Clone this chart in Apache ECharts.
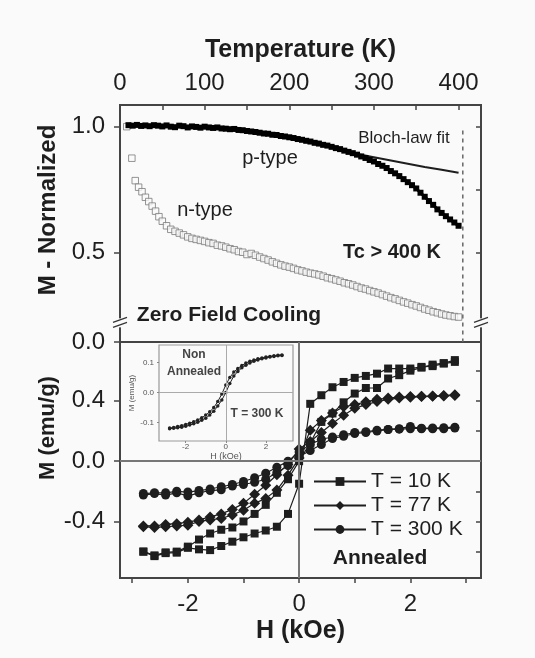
<!DOCTYPE html>
<html><head><meta charset="utf-8">
<script src="https://cdn.jsdelivr.net/npm/echarts@6/dist/echarts.min.js"></script>
<style>html,body{margin:0;padding:0;background:#fafafa}#c{width:535px;height:658px}</style>
</head><body><div id="c"></div>
<script>
// ---------- Top panel: normalized M vs temperature ----------
const tempLabels = [0, 100, 200, 300, 400];
const tempTicks = [0, 50, 100, 150, 200, 250, 300, 350, 400];
const normLabels = [0.146, 0.5, 1.0];

const pTemp = [10,15,20,25,30,35,40,45,50,55,60,65,70,75,80,85,90,95,100,105,110,115,120,125,130,135,140,145,150,155,160,165,170,175,180,185,190,195,200,205,210,215,220,225,230,235,240,245,250,255,260,265,270,275,280,285,290,295,300,305,310,315,320,325,330,335,340,345,350,355,360,365,370,375,380,385,390,395,400];
const pM = [1.006,1.004,1.007,1.003,1.005,1.002,1.006,1.004,1.001,1.005,1.000,0.998,1.004,1.002,0.997,1.001,0.999,0.996,1.000,0.997,0.995,0.997,0.993,
  0.992,0.990,0.991,0.987,0.986,0.983,0.981,0.979,0.976,0.973,0.972,0.968,0.967,0.963,0.961,0.958,
  0.955,0.951,0.948,0.944,0.941,0.936,0.933,0.928,0.925,0.920,0.915,0.911,0.905,0.900,0.895,0.889,0.882,0.876,0.868,0.862,
  0.852,0.845,0.836,0.824,0.815,0.804,0.792,0.780,0.768,0.755,0.738,0.722,0.705,0.690,0.672,0.658,0.645,0.632,0.620,0.607];

const nTemp = [8,14,18,22,26,30,34,38,42,46,50,55,60,65,70,75,80,85,90,95,100,105,110,115,120,125,130,135,140,145,150,155,160,165,170,175,180,185,190,195,200,205,210,215,220,225,230,235,240,245,250,255,260,265,270,275,280,285,290,295,300,305,310,315,320,325,330,335,340,345,350,355,360,365,370,375,380,385,390,395,400];
const nM = [1.0,0.875,0.786,0.76,0.742,0.72,0.703,0.685,0.665,0.643,
  0.625,0.607,0.593,0.585,0.578,0.571,0.563,0.557,0.553,0.549,0.545,0.540,0.537,0.530,0.527,0.522,0.516,0.512,0.505,0.502,
  0.493,0.497,0.490,0.483,0.477,0.471,0.464,0.458,0.452,0.447,0.443,0.438,0.432,0.428,0.423,0.419,0.416,0.412,0.407,0.401,
  0.397,0.392,0.387,0.381,0.377,0.372,0.366,0.360,0.356,0.350,0.345,0.340,0.334,0.328,0.322,0.317,0.311,0.305,0.300,0.294,
  0.289,0.283,0.277,0.272,0.266,0.262,0.257,0.253,0.250,0.247,0.245];

const blochT = [200,240,260,280,300,320,340,360,380,400];
const blochM = [0.955,0.929,0.912,0.892,0.879,0.866,0.853,0.840,0.829,0.817];

const tcLineT = [405, 405];
const tcLineM = [0.985, 0.146];

// ---------- Bottom panel: hysteresis loops ----------
const fieldLabels = [-2, 0, 2];
const fieldTicks = [-3, -2, -1, 0, 1, 2, 3];
const momentLabels = [-0.4, 0, 0.4];
const momentRightTicks = [-0.6, -0.4, -0.2, 0.2, 0.4, 0.6];

const H = [-2.8,-2.6,-2.4,-2.2,-2.0,-1.8,-1.6,-1.4,-1.2,-1.0,-0.8,-0.6,-0.4,-0.2,0,0.2,0.4,0.6,0.8,1.0,1.2,1.4,1.6,1.8,2.0,2.2,2.4,2.6,2.8];
const m10a = [-0.60,-0.63,-0.61,-0.607,-0.575,-0.585,-0.59,-0.563,-0.534,-0.505,-0.48,-0.46,-0.435,-0.35,-0.15,0.38,0.437,0.49,0.525,0.552,0.565,0.58,0.614,0.614,0.614,0.625,0.63,0.647,0.658];
const m10b = [-0.60,-0.625,-0.605,-0.60,-0.567,-0.52,-0.48,-0.455,-0.44,-0.40,-0.35,-0.29,-0.21,-0.12,0.0,0.12,0.26,0.316,0.39,0.448,0.485,0.485,0.548,0.57,0.60,0.62,0.64,0.65,0.67];
const m77a = [-0.435,-0.44,-0.435,-0.43,-0.425,-0.40,-0.39,-0.38,-0.357,-0.325,-0.28,-0.247,-0.192,-0.093,0.02,0.205,0.27,0.32,0.36,0.375,0.393,0.41,0.418,0.425,0.428,0.43,0.432,0.435,0.44];
const m77b = [-0.43,-0.43,-0.42,-0.415,-0.405,-0.39,-0.37,-0.35,-0.32,-0.28,-0.22,-0.16,-0.09,-0.02,0.08,0.13,0.19,0.25,0.305,0.35,0.375,0.395,0.41,0.418,0.424,0.428,0.43,0.432,0.436];
const m300a = [-0.225,-0.215,-0.225,-0.21,-0.23,-0.21,-0.195,-0.19,-0.165,-0.155,-0.14,-0.12,-0.075,-0.03,0.03,0.07,0.11,0.15,0.165,0.183,0.19,0.20,0.21,0.215,0.23,0.215,0.215,0.215,0.22];
const m300b = [-0.215,-0.21,-0.21,-0.20,-0.205,-0.195,-0.185,-0.17,-0.155,-0.135,-0.11,-0.08,-0.04,0.0,0.06,0.11,0.145,0.16,0.175,0.19,0.195,0.205,0.21,0.212,0.215,0.218,0.22,0.222,0.225];

// ---------- Inset: non-annealed, 300 K ----------
const insetFieldLabels = [-2, 0, 2];
const insetMomentLabels = [-0.1, 0, 0.1];
const hIn = [-2.8,-2.6,-2.4,-2.2,-2.0,-1.8,-1.6,-1.4,-1.2,-1.0,-0.8,-0.6,-0.4,-0.2,0,0.2,0.4,0.6,0.8,1.0,1.2,1.4,1.6,1.8,2.0,2.2,2.4,2.6,2.8];
const inUpper = [-0.118,-0.116,-0.113,-0.11,-0.106,-0.102,-0.097,-0.091,-0.084,-0.075,-0.064,-0.05,-0.03,-0.005,0.025,0.05,0.068,0.08,0.09,0.098,0.104,0.108,0.112,0.115,0.118,0.12,0.122,0.124,0.125];
const inLower = [-0.12,-0.119,-0.117,-0.115,-0.112,-0.108,-0.104,-0.099,-0.092,-0.085,-0.075,-0.062,-0.045,-0.025,0.0,0.03,0.055,0.07,0.082,0.091,0.098,0.104,0.108,0.112,0.115,0.118,0.12,0.122,0.123];

const FF = '"Liberation Sans", Arial, Helvetica, sans-serif';
const INK = '#1e1e1e';
const zip = (xs, ys) => xs.map((x, i) => [x, ys[i]]);
const noLine = { show: false, onZero: false };

function loopSeries(name, ys, symbol, size) {
  return {
    name, type: 'line', xAxisIndex: 1, yAxisIndex: 2, data: zip(H, ys),
    symbol, symbolSize: size, z: 3,
    lineStyle: { color: INK, width: 1.2 }, itemStyle: { color: INK }
  };
}

const option = {
  animation: false,
  backgroundColor: '#fafafa',
  textStyle: { fontFamily: FF, color: INK },
  grid: [
    { left: 120, top: 105, width: 361, height: 237, show: true, borderColor: '#444', borderWidth: 2, backgroundColor: 'transparent', containLabel: false, outerBoundsMode: 'none' },
    { left: 120, top: 342, width: 361, height: 236, show: true, borderColor: '#444', borderWidth: 2, backgroundColor: 'transparent', containLabel: false, outerBoundsMode: 'none' },
    { left: 159, top: 345, width: 134, height: 96, show: true, borderColor: '#999', borderWidth: 1.2, backgroundColor: 'transparent', containLabel: false, outerBoundsMode: 'none' }
  ],
  xAxis: [
    { gridIndex: 0, type: 'value', position: 'top', min: 0, max: 426.5,
      axisLine: noLine, splitLine: { show: false },
      axisTick: { show: true, inside: true, length: 5, lineStyle: { color: '#444', width: 1.5 }, customValues: tempTicks },
      axisLabel: { customValues: tempLabels, fontSize: 24, color: INK, margin: 10, fontFamily: FF },
      name: 'Temperature (K)', nameLocation: 'middle', nameGap: 42,
      nameTextStyle: { fontSize: 25, fontWeight: 'bold', color: INK, fontFamily: FF } },
    { gridIndex: 1, type: 'value', position: 'bottom', min: -3.22, max: 3.27,
      axisLine: noLine, splitLine: { show: false },
      axisTick: { show: true, inside: false, length: 5, lineStyle: { color: '#444', width: 1.5 }, customValues: fieldTicks },
      axisLabel: { customValues: fieldLabels, fontSize: 24, color: INK, margin: 14, fontFamily: FF },
      name: 'H (kOe)', nameLocation: 'middle', nameGap: 41,
      nameTextStyle: { fontSize: 25, fontWeight: 'bold', color: INK, fontFamily: FF } },
    { gridIndex: 2, type: 'value', position: 'bottom', min: -3.33, max: 3.35,
      axisLine: noLine, splitLine: { show: false },
      axisTick: { show: true, inside: false, length: 2, lineStyle: { color: '#888', width: 1 }, customValues: insetFieldLabels },
      axisLabel: { customValues: insetFieldLabels, fontSize: 8, color: '#555', margin: 2, fontFamily: FF },
      name: 'H (kOe)', nameLocation: 'middle', nameGap: 10,
      nameTextStyle: { fontSize: 9, color: '#555', fontFamily: FF } }
  ],
  yAxis: [
    { gridIndex: 0, type: 'value', position: 'left', min: 0.146, max: 1.086,
      axisLine: noLine, splitLine: { show: false },
      axisTick: { show: true, inside: false, length: 6, lineStyle: { color: '#444', width: 1.5 }, customValues: normLabels },
      axisLabel: { customValues: normLabels, fontSize: 24, color: INK, margin: 15, fontFamily: FF,
        formatter: v => (v < 0.3 ? '0.0' : v.toFixed(1)) } },
    { gridIndex: 0, type: 'value', position: 'right', min: 0.146, max: 1.086,
      axisLine: noLine, splitLine: { show: false },
      axisTick: { show: true, inside: true, length: 5, lineStyle: { color: '#444', width: 1.5 }, customValues: [0.5, 0.75, 1.0] },
      axisLabel: { show: false } },
    { gridIndex: 1, type: 'value', position: 'left', min: -0.775, max: 0.79,
      axisLine: noLine, splitLine: { show: false },
      axisTick: { show: true, inside: false, length: 6, lineStyle: { color: '#444', width: 1.5 }, customValues: momentLabels },
      axisLabel: { customValues: momentLabels, fontSize: 24, color: INK, margin: 15, fontFamily: FF,
        formatter: v => v.toFixed(1) } },
    { gridIndex: 1, type: 'value', position: 'right', min: -0.775, max: 0.79,
      axisLine: noLine, splitLine: { show: false },
      axisTick: { show: true, inside: true, length: 5, lineStyle: { color: '#444', width: 1.5 }, customValues: momentRightTicks },
      axisLabel: { show: false } },
    { gridIndex: 2, type: 'value', position: 'left', min: -0.161, max: 0.158,
      axisLine: noLine, splitLine: { show: false },
      axisTick: { show: true, inside: false, length: 2, lineStyle: { color: '#888', width: 1 }, customValues: insetMomentLabels },
      axisLabel: { customValues: insetMomentLabels, fontSize: 8, color: '#555', margin: 5, fontFamily: FF,
        formatter: v => v.toFixed(1) },
      name: 'M (emu/g)', nameLocation: 'middle', nameGap: 23,
      nameTextStyle: { fontSize: 8, color: '#555', fontFamily: FF } }
  ],
  legend: {
    left: 313, top: 471, orient: 'vertical', padding: 0,
    itemWidth: 52, itemHeight: 11, itemGap: 3, selectedMode: false,
    textStyle: { fontSize: 21, color: INK, fontFamily: FF },
    data: ['T = 10 K', 'T = 77 K', 'T = 300 K']
  },
  series: [
    { type: 'line', xAxisIndex: 1, yAxisIndex: 2, data: [], z: 1, silent: true,
      markLine: { silent: true, symbol: 'none', label: { show: false },
        lineStyle: { color: '#777', width: 2, type: 'solid' },
        data: [{ xAxis: 0 }, { yAxis: 0 }] } },
    { type: 'line', xAxisIndex: 2, yAxisIndex: 4, data: [], z: 1, silent: true,
      markLine: { silent: true, symbol: 'none', label: { show: false },
        lineStyle: { color: '#aaa', width: 1, type: 'solid' },
        data: [{ xAxis: 0 }, { yAxis: 0 }] } },
    { name: 'n-type', type: 'scatter', xAxisIndex: 0, yAxisIndex: 0, data: zip(nTemp, nM),
      symbol: 'rect', symbolSize: 6.5, z: 2,
      itemStyle: { color: '#fafafa', borderColor: '#7a7a7a', borderWidth: 1 } },
    { name: 'Bloch-law fit', type: 'line', xAxisIndex: 0, yAxisIndex: 0, data: zip(blochT, blochM),
      symbol: 'none', z: 2, lineStyle: { color: INK, width: 2 } },
    { name: 'p-type', type: 'line', xAxisIndex: 0, yAxisIndex: 0, data: zip(pTemp, pM),
      symbol: 'rect', symbolSize: 6, z: 3,
      lineStyle: { color: '#000', width: 3 }, itemStyle: { color: '#000' } },
    { name: 'Tc', type: 'line', xAxisIndex: 0, yAxisIndex: 0, data: zip(tcLineT, tcLineM),
      symbol: 'none', z: 2, lineStyle: { color: '#666', width: 1.5, type: [4, 4] } },
    loopSeries('T = 10 K', m10a, 'rect', 8),
    loopSeries('T = 10 K', m10b, 'rect', 8),
    loopSeries('T = 77 K', m77a, 'diamond', 11),
    loopSeries('T = 77 K', m77b, 'diamond', 11),
    loopSeries('T = 300 K', m300a, 'circle', 9),
    loopSeries('T = 300 K', m300b, 'circle', 9),
    { name: 'inset-upper', type: 'line', xAxisIndex: 2, yAxisIndex: 4, data: zip(hIn, inUpper),
      symbol: 'circle', symbolSize: 3.5, z: 3, lineStyle: { color: '#222', width: 1 }, itemStyle: { color: '#222' } },
    { name: 'inset-lower', type: 'line', xAxisIndex: 2, yAxisIndex: 4, data: zip(hIn, inLower),
      symbol: 'circle', symbolSize: 3.5, z: 3, lineStyle: { color: '#222', width: 1 }, itemStyle: { color: '#222' } }
  ]
};

const chart = echarts.init(document.getElementById('c'), null, { renderer: 'canvas' });
chart.setOption(option);

function txt(x, y, text, size, bold, fill, extra) {
  return Object.assign({ type: 'text', x, y, z: 50,
    style: { text, fontSize: size, fontWeight: bold ? 'bold' : 'normal', fontFamily: FF,
      fill: fill || INK, align: 'center', verticalAlign: 'middle' } }, extra || {});
}
function breakMark(x, y) {
  return { type: 'group', x, y, z: 60, children: [
    { type: 'rect', shape: { x: -3, y: -5, width: 6, height: 9 }, style: { fill: '#fafafa' } },
    { type: 'line', shape: { x1: -7, y1: -1, x2: 7, y2: -6 }, style: { stroke: '#333', lineWidth: 1.2 } },
    { type: 'line', shape: { x1: -7, y1: 4, x2: 7, y2: -1 }, style: { stroke: '#333', lineWidth: 1.2 } }
  ] };
}
const yB = chart.convertToPixel({ yAxisIndex: 0 }, 0.22);
const xLeft = chart.convertToPixel({ xAxisIndex: 0 }, 0);
const xRight = chart.convertToPixel({ xAxisIndex: 0 }, 426.5);

chart.setOption({
  graphic: [
    txt(48, 210, 'M - Normalized', 24, true, INK, { rotation: Math.PI / 2 }),
    txt(48, 428, 'M (emu/g)', 22, true, INK, { rotation: Math.PI / 2 }),
    txt(270, 158, 'p-type', 20, false),
    txt(205, 210, 'n-type', 20, false),
    txt(404, 138, 'Bloch-law fit', 17, false),
    txt(392, 252, 'Tc > 400 K', 20, true),
    txt(229, 315, 'Zero Field Cooling', 21, true),
    txt(380, 558, 'Annealed', 21, true),
    txt(194, 355, 'Non', 12, true, '#444'),
    txt(194, 372, 'Annealed', 12, true, '#444'),
    txt(257, 414, 'T = 300 K', 12, true, '#444'),
    breakMark(xLeft, yB),
    breakMark(xRight, yB)
  ]
});
</script>
</body></html>
